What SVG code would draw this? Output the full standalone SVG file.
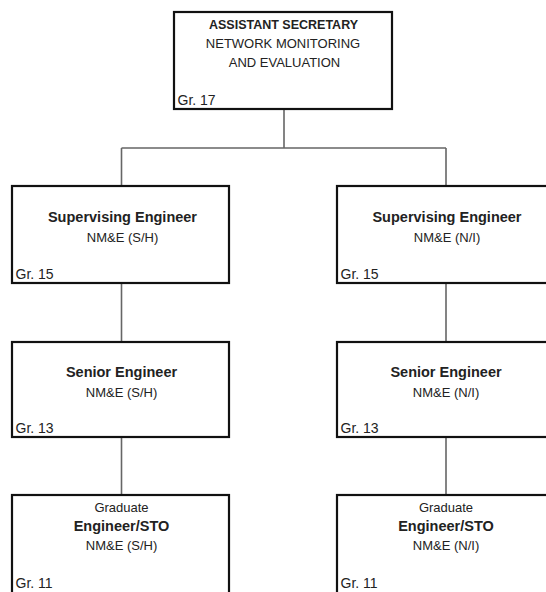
<svg xmlns="http://www.w3.org/2000/svg" width="546" height="592" viewBox="0 0 546 592">
<style>
.box{fill:#fff;stroke:#111;stroke-width:2.2}
.con{fill:none;stroke:#666;stroke-width:1.6}
text{font-family:"Liberation Sans",Arial,sans-serif;fill:#222}
.t{font-size:14.5px;font-weight:bold;text-anchor:middle}
.s{font-size:13px;text-anchor:middle}
.g{font-size:14px}
.h{font-size:12.5px;font-weight:bold;text-anchor:middle}
</style>
<rect width="546" height="592" fill="#fff"/>
<g id="connectors">
<path class="con" d="M284 109V148M121.5 148H446M121.5 148V186M446 148V186M121.5 283V342M446 283V342M121.5 437V495M446 437V495"/>
</g>
<g id="asst-sec">
<rect class="box" x="174" y="12" width="218" height="97"/>
<text class="h" x="283.5" y="28.5">ASSISTANT SECRETARY</text>
<text class="s" x="283" y="47.5">NETWORK MONITORING</text>
<text class="s" x="284.5" y="66.5">AND EVALUATION</text>
<text class="g" x="177.5" y="105">Gr. 17</text>
</g>
<g id="sup-sh">
<rect class="box" x="12" y="186" width="217" height="97"/>
<text class="t" x="122.5" y="222">Supervising Engineer</text>
<text class="s" x="122.5" y="241.5">NM&amp;E (S/H)</text>
<text class="g" x="15.5" y="279">Gr. 15</text>
</g>
<g id="sup-ni">
<rect class="box" x="337" y="186" width="217" height="97"/>
<text class="t" x="447" y="222">Supervising Engineer</text>
<text class="s" x="447" y="241.5">NM&amp;E (N/I)</text>
<text class="g" x="340.5" y="279">Gr. 15</text>
</g>
<g id="sen-sh">
<rect class="box" x="12" y="342" width="217" height="95"/>
<text class="t" x="121.5" y="377">Senior Engineer</text>
<text class="s" x="121.5" y="396.5">NM&amp;E (S/H)</text>
<text class="g" x="15.5" y="433">Gr. 13</text>
</g>
<g id="sen-ni">
<rect class="box" x="337" y="342" width="217" height="95"/>
<text class="t" x="446" y="377">Senior Engineer</text>
<text class="s" x="446" y="396.5">NM&amp;E (N/I)</text>
<text class="g" x="340.5" y="433">Gr. 13</text>
</g>
<g id="grad-sh">
<rect class="box" x="12" y="495" width="217" height="100"/>
<text class="s" x="121.5" y="511.5">Graduate</text>
<text class="t" x="121.5" y="531">Engineer/STO</text>
<text class="s" x="121.5" y="550">NM&amp;E (S/H)</text>
<text class="g" x="15.5" y="588">Gr. 11</text>
</g>
<g id="grad-ni">
<rect class="box" x="337" y="495" width="217" height="100"/>
<text class="s" x="446" y="511.5">Graduate</text>
<text class="t" x="446" y="531">Engineer/STO</text>
<text class="s" x="446" y="550">NM&amp;E (N/I)</text>
<text class="g" x="340.5" y="588">Gr. 11</text>
</g>
</svg>
